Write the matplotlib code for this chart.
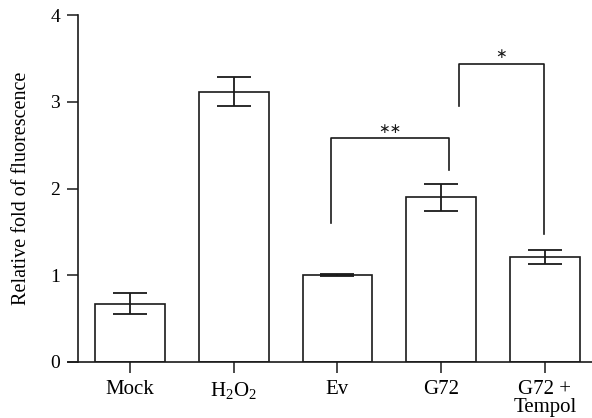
import matplotlib
matplotlib.use("Agg")
import matplotlib.pyplot as plt
import numpy as np

categories = ["Mock", "H$_2$O$_2$", "Ev", "G72", "G72 +\nTempol"]
means = [0.67, 3.12, 1.00, 1.90, 1.21]
errors = [0.12, 0.17, 0.01, 0.155, 0.085]
yticks = [0, 1, 2, 3, 4]

plt.rcParams['font.family'] = ['Liberation Serif', 'DejaVu Serif']
plt.rcParams['mathtext.fontset'] = 'custom'
plt.rcParams['mathtext.rm'] = 'Liberation Serif'
plt.rcParams['mathtext.it'] = 'Liberation Serif:italic'

fig = plt.figure(figsize=(5.92, 4.18), dpi=100)
ax = fig.add_axes([78.3/592, 56.3/418, 1 - 78.3/592, (361.7-15.3)/418])
x = np.arange(len(categories))
col = '#1a1a1a'
ax.bar(x, means, width=0.67, facecolor='white', edgecolor=col, linewidth=1.2, zorder=2)
ax.errorbar(x, means, yerr=errors, fmt='none', ecolor=col, elinewidth=1.3,
            capsize=12.4, capthick=1.3, zorder=3)

ax.set_xlim(-0.5, 4.455)
ax.set_ylim(0, 4)
ax.set_yticks(yticks)
ax.set_xticks(x)
ax.set_xticklabels(categories, fontsize=15, linespacing=0.88, multialignment='center')
ax.tick_params(axis='y', labelsize=14, length=8, width=1.1, color=col, pad=5)
ax.tick_params(axis='x', length=8, width=1.1, color=col, pad=5.5)
for s in ['top', 'right']:
    ax.spines[s].set_visible(False)
for s in ['left', 'bottom']:
    ax.spines[s].set_linewidth(1.2)
    ax.spines[s].set_color(col)
ax.spines['bottom'].set_bounds(-0.5 - 10.6/103.7, 4.6)
ax.set_ylabel("Relative fold of fluorescence", fontsize=14.5, labelpad=14)

# significance brackets
def bracket(x1, x2, y1, y2, top, label):
    ax.plot([x1, x1, x2, x2], [y1, top, top, y2], color=col, lw=1.2, clip_on=False)
    ax.text((x1 + x2) / 2, top + 0.03, label, ha='center', va='bottom',
            fontsize=10, color=col, family='DejaVu Sans')

bracket(2 - 0.065, 3 + 0.075, 1.60, 2.21, 2.58, "∗∗")
bracket(3 + 0.17, 4 - 0.005, 2.95, 1.47, 3.44, "∗")

fig.savefig("out.png", dpi=100)
